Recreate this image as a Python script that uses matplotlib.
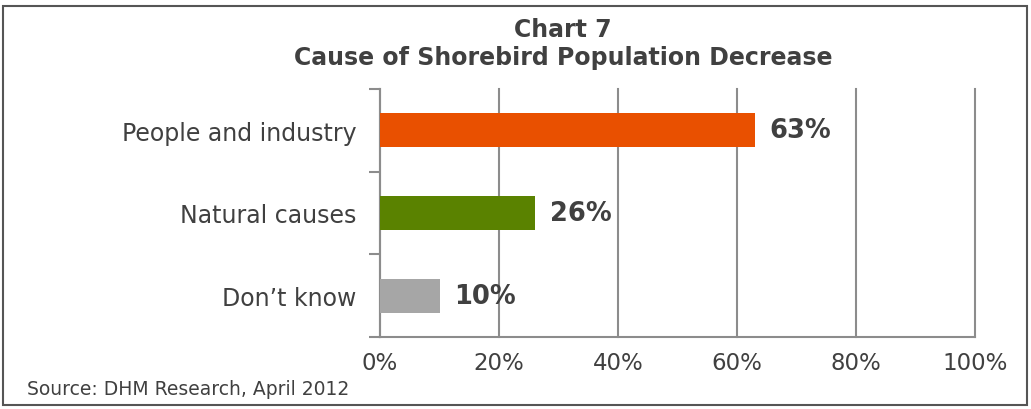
import matplotlib.pyplot as plt
from matplotlib.patches import Rectangle

categories = ["People and industry", "Natural causes", "Don\u2019t know"]
values = [63, 26, 10]
bar_colors = ["#E95000", "#5A8200", "#A6A6A6"]
x_ticks = [0, 20, 40, 60, 80, 100]
x_ticklabels = ["0%", "20%", "40%", "60%", "80%", "100%"]

TEXT = "#404040"
GRID = "#8C8C8C"

plt.rcParams["font.family"] = ["DejaVu Sans"]

fig = plt.figure(figsize=(10.31, 4.10), dpi=100)
ax = fig.add_axes([380 / 1031, 1 - 338 / 410, (975 - 380) / 1031, (338 - 90) / 410])

# bars top to bottom
ypos = [2.5, 1.5, 0.5]
ax.barh(ypos, values, height=0.41, color=bar_colors, zorder=3)
for y, v in zip(ypos, values):
    ax.text(v + 2.5, y, f"{v}%", va="center", ha="left", fontsize=18.5,
            fontweight="bold", color=TEXT, zorder=4)

ax.set_xlim(0, 100)
ax.set_ylim(0, 3)
ax.set_xticks(x_ticks)
ax.set_xticklabels(x_ticklabels, fontsize=16.5, color=TEXT)
ax.set_yticks([0, 1, 2, 3])
ax.set_yticklabels([])
ax.set_yticks(ypos, minor=True)
ax.set_yticklabels(categories, minor=True, fontsize=17, color=TEXT)
ax.tick_params(axis="y", which="minor", length=0, pad=17)
ax.tick_params(axis="y", which="major", length=8, width=1.5, color=GRID, direction="out")
ax.tick_params(axis="x", length=0, pad=10)

ax.grid(axis="x", color=GRID, linewidth=1.5, zorder=0)
for gl in ax.get_xgridlines():
    gl.set_clip_on(False)
for s in ["top", "right"]:
    ax.spines[s].set_visible(False)
for s in ["left", "bottom"]:
    ax.spines[s].set_color(GRID)
    ax.spines[s].set_linewidth(1.5)

fig.text(563 / 1031, 1 - 30 / 410, "Chart 7", ha="center", va="center",
         fontsize=17, fontweight="bold", color=TEXT)
fig.text(563 / 1031, 1 - 58 / 410, "Cause of Shorebird Population Decrease",
         ha="center", va="center", fontsize=17, fontweight="bold", color=TEXT)
fig.text(27 / 1031, 1 - 390 / 410, "Source: DHM Research, April 2012",
         ha="left", va="center", fontsize=13.5, color=TEXT)

# outer frame
fig.patches.append(Rectangle((3 / 1031, 4 / 410), 1024 / 1031, 399 / 410,
                             transform=fig.transFigure, fill=False,
                             edgecolor="#555555", linewidth=1.5))

fig.savefig("out.png", dpi=100)
